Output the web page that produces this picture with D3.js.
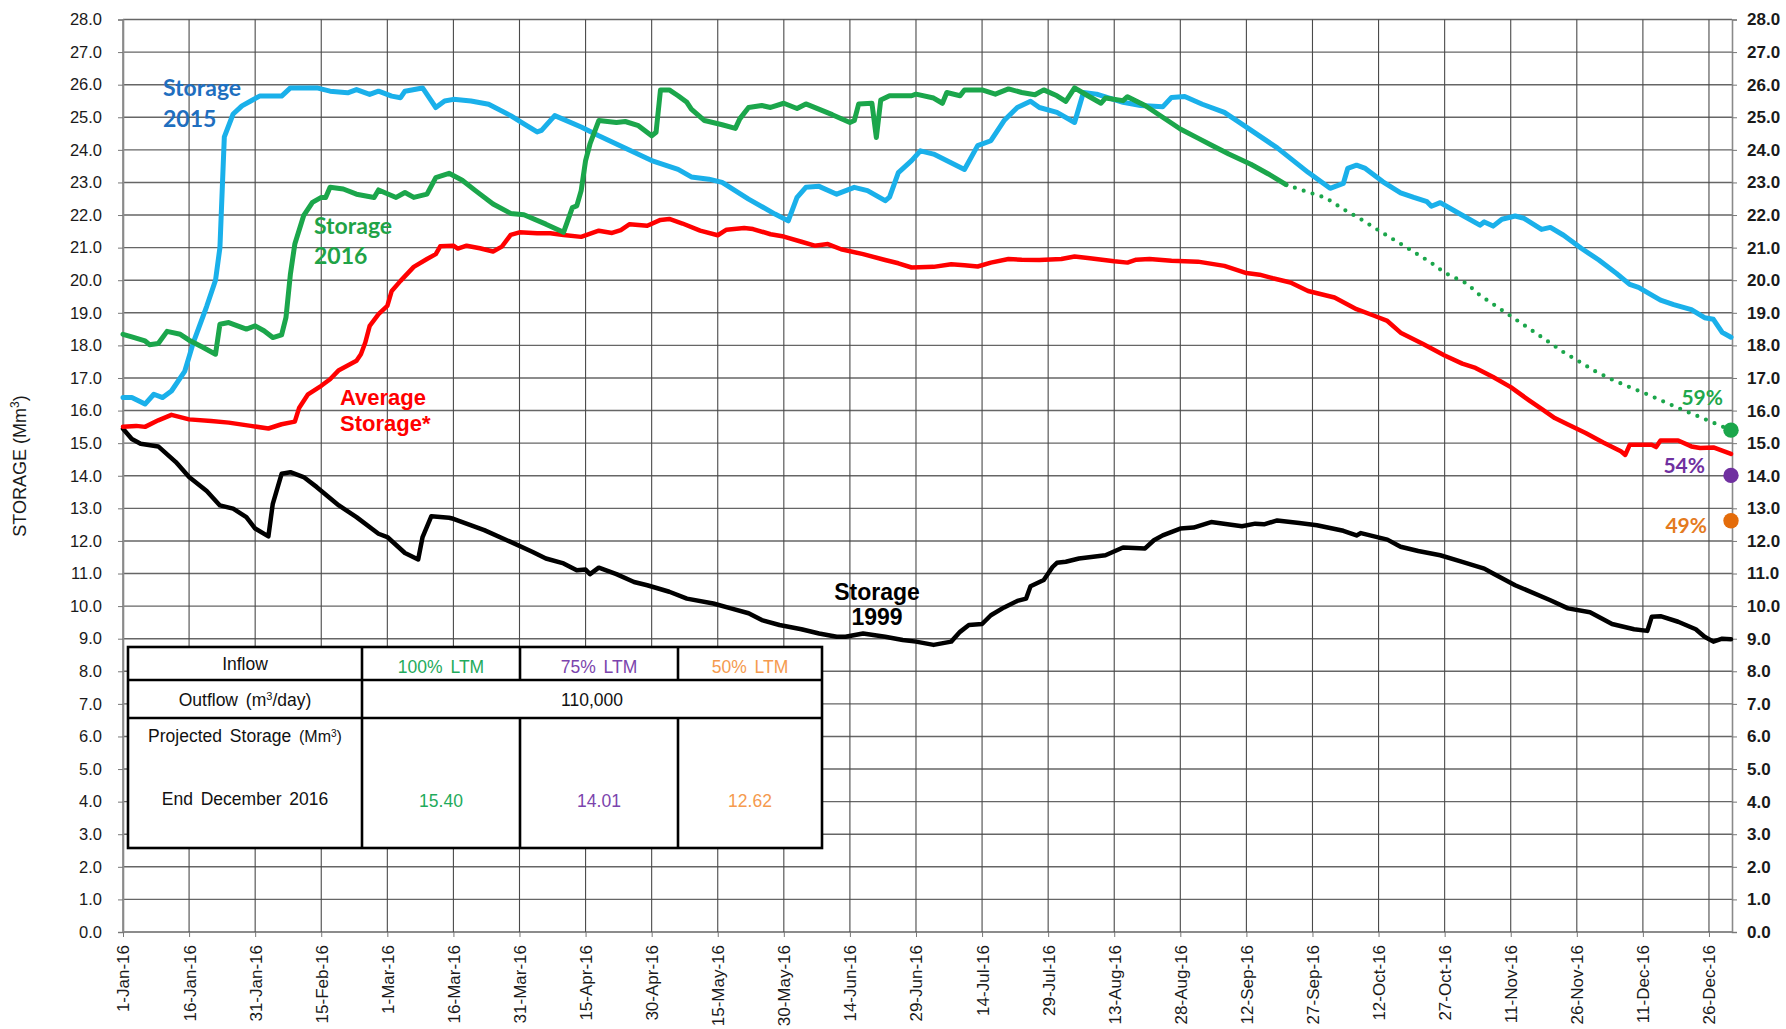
<!DOCTYPE html>
<html>
<head>
<meta charset="utf-8">
<script src="https://cdn.jsdelivr.net/npm/d3@7"></script>
<style>
  body { margin: 0; background: #fff; }
  text { font-family: "Liberation Sans", Arial, sans-serif; }
</style>
</head>
<body>
<div id="chart"></div>
<script>
// values: [day of 2016 (0 = 1-Jan), storage Mm3]
const storage2015 = [[0,16.4],[2,16.4],[5,16.2],[7,16.5],[9,16.4],[11,16.6],[14,17.2],[16,18.1],[19,19.2],[21,20.0],[22,21.0],[23,24.4],[25,25.1],[27,25.35],[29,25.5],[31,25.65],[36,25.65],[38,25.9],[44,25.9],[47,25.8],[51,25.75],[53,25.85],[56,25.7],[58,25.8],[61,25.65],[63,25.6],[64,25.8],[68,25.9],[69,25.7],[71,25.3],[73,25.5],[75,25.55],[79,25.5],[83,25.4],[88,25.05],[91,24.8],[94,24.55],[95,24.6],[98,25.05],[104,24.7],[108,24.43],[112,24.18],[120,23.67],[126,23.4],[129,23.17],[133,23.1],[136,23.0],[142,22.49],[148,22.03],[151,21.82],[153,22.54],[155,22.85],[158,22.88],[162,22.64],[166,22.85],[169,22.75],[173,22.44],[174,22.55],[176,23.3],[179,23.67],[181,23.97],[184,23.87],[191,23.4],[194,24.13],[197,24.28],[200,24.9],[203,25.3],[206,25.49],[208,25.3],[212,25.15],[216,24.84],[218,25.76],[221,25.71],[227,25.46],[231,25.36],[236,25.32],[238,25.61],[241,25.64],[245,25.4],[250,25.15],[254,24.79],[262,24.06],[269,23.31],[274,22.82],[277,22.97],[278,23.43],[280,23.53],[282,23.43],[286,23.02],[290,22.68],[293,22.54],[296,22.41],[297,22.27],[299,22.38],[303,22.07],[308,21.69],[309,21.79],[311,21.66],[313,21.87],[316,21.97],[318,21.9],[322,21.56],[324,21.62],[327,21.38],[331,20.98],[335,20.62],[339,20.21],[342,19.87],[344,19.78],[349,19.39],[352,19.25],[356,19.1],[359,18.85],[361,18.8],[363,18.4],[365,18.25]]

const storage2016 = [[0,18.34],[2,18.26],[5,18.14],[6,18.02],[8,18.06],[10,18.43],[13,18.34],[15,18.16],[18,17.95],[21,17.73],[22,18.65],[24,18.7],[26,18.6],[28,18.5],[30,18.6],[32,18.45],[34,18.24],[36,18.32],[37,18.86],[38,20.19],[39,21.11],[41,21.98],[43,22.39],[45,22.54],[46,22.54],[47,22.85],[50,22.8],[53,22.64],[57,22.54],[58,22.77],[62,22.54],[64,22.69],[66,22.54],[69,22.64],[71,23.15],[74,23.28],[77,23.07],[80,22.75],[84,22.34],[88,22.05],[91,22.01],[96,21.72],[100,21.47],[102,22.23],[103,22.28],[104,22.75],[105,23.67],[106,24.18],[108,24.9],[112,24.84],[114,24.87],[117,24.74],[120,24.43],[121,24.54],[122,25.84],[124,25.84],[126,25.66],[128,25.46],[129,25.25],[132,24.9],[136,24.77],[139,24.66],[140,24.95],[142,25.3],[145,25.36],[147,25.3],[150,25.43],[153,25.27],[155,25.41],[161,25.08],[165,24.84],[166,24.9],[167,25.41],[170,25.43],[171,24.38],[172,25.53],[174,25.66],[179,25.66],[180,25.71],[184,25.59],[186,25.43],[187,25.76],[190,25.66],[191,25.84],[195,25.84],[198,25.71],[201,25.87],[204,25.76],[207,25.69],[209,25.84],[212,25.66],[214,25.49],[216,25.9],[219,25.66],[222,25.43],[223,25.59],[227,25.51],[228,25.63],[232,25.36],[236,25.0],[240,24.64],[244,24.36],[247,24.15],[251,23.87],[256,23.56],[260,23.26],[264,22.93]]

const projection2016 = [[264,22.93],[269,22.7],[273,22.53],[277,22.18],[281,21.87],[285,21.53],[289,21.2],[293,20.87],[297,20.53],[300,20.23],[305,19.9],[308,19.54],[315,18.9],[321,18.35],[327,17.79],[330,17.55],[334,17.22],[338,16.95],[342,16.72],[346,16.5],[350,16.26],[354,16.02],[358,15.8],[362,15.57],[365,15.40]]

const averageStorage = [[0,15.5],[3,15.53],[5,15.5],[8,15.7],[11,15.87],[15,15.73],[20,15.68],[24,15.63],[29,15.53],[33,15.45],[36,15.58],[39,15.66],[40,16.09],[42,16.5],[45,16.76],[47,16.96],[49,17.24],[53,17.53],[54,17.73],[55,18.09],[56,18.6],[58,18.96],[60,19.21],[61,19.67],[63,19.98],[66,20.41],[69,20.65],[71,20.8],[72,21.04],[75,21.06],[76,20.97],[78,21.06],[81,20.98],[84,20.88],[86,21.03],[88,21.39],[90,21.47],[94,21.44],[97,21.44],[100,21.39],[104,21.33],[108,21.52],[111,21.45],[113,21.54],[115,21.72],[119,21.67],[122,21.85],[124,21.88],[127,21.74],[131,21.52],[135,21.38],[137,21.55],[141,21.6],[143,21.57],[147,21.41],[150,21.34],[154,21.18],[157,21.06],[160,21.11],[163,20.95],[168,20.8],[173,20.62],[176,20.52],[179,20.39],[184,20.41],[188,20.49],[191,20.46],[194,20.42],[197,20.54],[201,20.65],[204,20.63],[208,20.62],[213,20.65],[216,20.73],[219,20.68],[225,20.58],[228,20.54],[230,20.63],[233,20.65],[238,20.6],[244,20.57],[250,20.44],[255,20.22],[258,20.17],[261,20.06],[265,19.93],[269,19.67],[275,19.47],[280,19.11],[284,18.91],[287,18.75],[290,18.39],[295,18.05],[300,17.69],[304,17.44],[307,17.31],[311,17.03],[315,16.72],[319,16.33],[322,16.05],[325,15.77],[328,15.57],[332,15.31],[336,15.02],[340,14.75],[341,14.64],[342,14.95],[347,14.95],[348,14.88],[349,15.08],[353,15.08],[356,14.9],[358,14.85],[361,14.87],[365,14.67]]

const storage1999 = [[0,15.44],[2,15.13],[4,14.98],[8,14.9],[12,14.42],[15,13.96],[19,13.53],[22,13.09],[25,12.99],[28,12.73],[30,12.38],[33,12.14],[34,13.14],[36,14.06],[38,14.11],[41,13.96],[44,13.65],[49,13.09],[53,12.73],[58,12.22],[60,12.12],[64,11.63],[67,11.43],[68,12.12],[70,12.76],[74,12.71],[75,12.68],[82,12.33],[88,11.97],[93,11.66],[96,11.46],[100,11.31],[103,11.1],[105,11.12],[106,10.98],[108,11.18],[112,10.98],[116,10.74],[119,10.64],[124,10.44],[128,10.23],[134,10.08],[138,9.93],[142,9.78],[145,9.57],[149,9.42],[154,9.29],[158,9.16],[162,9.06],[164,9.06],[168,9.16],[173,9.06],[177,8.96],[180,8.91],[184,8.81],[188,8.91],[190,9.21],[192,9.42],[195,9.45],[197,9.72],[200,9.96],[203,10.16],[205,10.23],[206,10.61],[209,10.8],[211,11.2],[212,11.33],[214,11.36],[217,11.46],[223,11.56],[227,11.8],[232,11.77],[234,12.02],[236,12.17],[240,12.38],[243,12.41],[247,12.58],[254,12.45],[257,12.53],[259,12.51],[262,12.63],[267,12.55],[271,12.48],[277,12.31],[280,12.17],[281,12.24],[287,12.04],[290,11.82],[294,11.69],[299,11.56],[304,11.36],[309,11.15],[311,11.0],[316,10.64],[324,10.18],[328,9.93],[333,9.81],[338,9.45],[343,9.29],[346,9.24],[347,9.67],[349,9.69],[353,9.52],[357,9.29],[359,9.06],[361,8.91],[363,9.0],[365,8.98]]

// projection table
const inflowScenarios = ["100%  LTM", "75%  LTM", "50%  LTM"]
const projectedStorage = [15.40, 14.01, 12.62]
const projectedPercent = ["59%", "54%", "49%"]
const outflow = "110,000"

const yTicks = d3.range(0, 29, 1)
const xTickDays = d3.range(0, 361, 15)

const W = 1786, H = 1029
const plotL = 123, plotR = 1731, plotT = 19.5, plotB = 932
const start = new Date(2016, 0, 1)
const day = d => d3.timeDay.offset(start, d)

const x = d3.scaleTime().domain([start, day(365)]).range([plotL, plotR])
const y = d3.scaleLinear().domain([0, 28]).range([plotB, plotT])

const svg = d3.select("#chart").append("svg")
    .attr("width", W).attr("height", H)
svg.append("rect").attr("width", W).attr("height", H).attr("fill", "#fff")

// grid
svg.append("g").selectAll("line").data(yTicks).join("line")
    .attr("x1", plotL).attr("x2", plotR + 1)
    .attr("y1", d => y(d)).attr("y2", d => y(d))
    .attr("stroke", "#666").attr("stroke-width", 1.4)
svg.append("g").selectAll("line").data(xTickDays).join("line")
    .attr("x1", d => x(day(d))).attr("x2", d => x(day(d)))
    .attr("y1", plotT).attr("y2", plotB)
    .attr("stroke", "#4a4a4a").attr("stroke-width", 1.1)

// axes
const fmt = d3.format(".1f")
const yLeft = svg.append("g").attr("transform", `translate(${plotL},0)`)
    .call(d3.axisLeft(y).tickValues(yTicks).tickFormat(fmt).tickSize(5).tickPadding(16))
const yRight = svg.append("g").attr("transform", `translate(${plotR + 1},0)`)
    .call(d3.axisRight(y).tickValues(yTicks).tickFormat(fmt).tickSize(5).tickPadding(10))
const xAxis = svg.append("g").attr("transform", `translate(0,${plotB})`)
    .call(d3.axisBottom(x).tickValues(xTickDays.map(day)).tickFormat(d3.timeFormat("%-d-%b-%y")).tickSize(5))
;[yLeft, yRight, xAxis].forEach(g => {
    g.select(".domain").attr("stroke", "#8a8a8a").attr("stroke-width", 1.6)
    g.selectAll(".tick line").attr("stroke", "#777")
    g.selectAll("text").attr("fill", "#1a1a1a").style("font-family", '"Liberation Sans", Arial, sans-serif')
})
yLeft.selectAll("text").style("font-size", "16.5px")
yRight.selectAll("text").style("font-size", "17px").style("font-weight", "bold")
xAxis.select(".domain").remove()
xAxis.selectAll("text")
    .attr("transform", "rotate(-90)")
    .attr("x", -13).attr("y", 0).attr("dy", "0.35em")
    .style("text-anchor", "end").style("font-size", "17px")

const yTitle = svg.append("text")
    .attr("transform", "translate(26,466) rotate(-90)")
    .attr("text-anchor", "middle")
    .style("font-size", "18px").attr("fill", "#1a1a1a")
    .text("STORAGE (Mm")
yTitle.append("tspan").attr("dy", -7).style("font-size", "12px").text("3")
yTitle.append("tspan").attr("dy", 7).text(")")

// lines
const line = d3.line().x(d => x(day(d[0]))).y(d => y(d[1]))
function drawLine(data, colour, width) {
    return svg.append("path").datum(data)
        .attr("d", line).attr("fill", "none")
        .attr("stroke", colour).attr("stroke-width", width)
        .attr("stroke-linejoin", "round").attr("stroke-linecap", "round")
}
drawLine(storage1999, "#000", 4.5)
drawLine(averageStorage, "#ff0000", 4.5)
drawLine(storage2015, "#1ab0ea", 5)
drawLine(storage2016, "#1ba64b", 5)
drawLine(projection2016, "#1ba64b", 4.2).attr("stroke-dasharray", "0 9.3")

// end-of-year projection dots
const scenarioColours = ["#1ba64b", "#7030a0", "#e46c0a"]
const labelColours = ["#1fa84c", "#7030a0", "#e47a1e"]
const labelOffset = [[-8, -25], [-26, -2], [-24, 12]]
svg.append("g").selectAll("circle").data(projectedStorage).join("circle")
    .attr("cx", x(day(365))).attr("cy", d => y(d)).attr("r", 7.7)
    .attr("fill", (d, i) => scenarioColours[i])
svg.append("g").selectAll("text").data(projectedPercent).join("text")
    .attr("x", (d, i) => x(day(365)) + labelOffset[i][0])
    .attr("y", (d, i) => y(projectedStorage[i]) + labelOffset[i][1])
    .attr("text-anchor", "end")
    .style("font-family", "Lato, sans-serif").style("font-weight", "bold").style("font-size", "21px")
    .attr("fill", (d, i) => labelColours[i])
    .text(d => d)

// series labels
function label(lines, xPos, yPos, colour, font, size, anchor, gap) {
    const t = svg.append("text").attr("fill", colour)
        .style("font-family", font).style("font-weight", "bold").style("font-size", size + "px")
        .attr("text-anchor", anchor || "start")
    lines.forEach((s, i) => t.append("tspan").attr("x", xPos).attr("y", yPos + i * gap).text(s))
}
label(["Storage", "2015"], 163, 96, "#1f6fbf", "Lato, sans-serif", 23, "start", 31)
label(["Storage", "2016"], 314, 234, "#1fa347", "Lato, sans-serif", 23, "start", 30)
label(["Average", "Storage*"], 340, 405, "#ff0000", '"Liberation Sans", Arial, sans-serif', 22, "start", 26)
label(["Storage", "1999"], 877, 600, "#000", '"Liberation Sans", Arial, sans-serif', 23, "middle", 25)

// table
const cols = [128, 362, 520, 678, 822]
const rows = [647, 680, 718, 848]
const tbl = svg.append("g")
tbl.append("rect").attr("x", cols[0]).attr("y", rows[0])
    .attr("width", cols[4] - cols[0]).attr("height", rows[3] - rows[0])
    .attr("fill", "#fff").attr("stroke", "#000").attr("stroke-width", 2.6)
const seg = (x1, y1, x2, y2) => tbl.append("line")
    .attr("x1", x1).attr("y1", y1).attr("x2", x2).attr("y2", y2)
    .attr("stroke", "#000").attr("stroke-width", 2.6)
seg(cols[0], rows[1], cols[4], rows[1])
seg(cols[0], rows[2], cols[4], rows[2])
seg(cols[1], rows[0], cols[1], rows[3])
seg(cols[2], rows[0], cols[2], rows[1])
seg(cols[3], rows[0], cols[3], rows[1])
seg(cols[2], rows[2], cols[2], rows[3])
seg(cols[3], rows[2], cols[3], rows[3])

const cellText = (s, xPos, yPos, colour) => tbl.append("text")
    .attr("x", xPos).attr("y", yPos).attr("text-anchor", "middle")
    .attr("fill", colour || "#111").style("font-size", "17.5px").style("word-spacing", "3px")
    .text(s)
const c0 = (cols[0] + cols[1]) / 2
const tableText = ["#1fab5c", "#7b44ad", "#f59a4e"]
cellText("Inflow", c0, 670)
inflowScenarios.forEach((s, i) => cellText(s, (cols[i + 1] + cols[i + 2]) / 2, 673, tableText[i]))
const outT = cellText("Outflow (m", c0, 706)
outT.append("tspan").attr("dy", -6).style("font-size", "11px").text("3")
outT.append("tspan").attr("dy", 6).text("/day)")
cellText(outflow, (cols[1] + cols[4]) / 2, 706)
const projT = cellText("Projected Storage ", c0, 742)
projT.append("tspan").style("font-size", "16px").text("(Mm")
projT.append("tspan").attr("dy", -5).style("font-size", "10px").text("3")
projT.append("tspan").attr("dy", 5).style("font-size", "16px").text(")")
cellText("End December 2016", c0, 805)
projectedStorage.forEach((v, i) => cellText(v.toFixed(2), (cols[i + 1] + cols[i + 2]) / 2, 807, tableText[i]))
</script>
</body>
</html>
